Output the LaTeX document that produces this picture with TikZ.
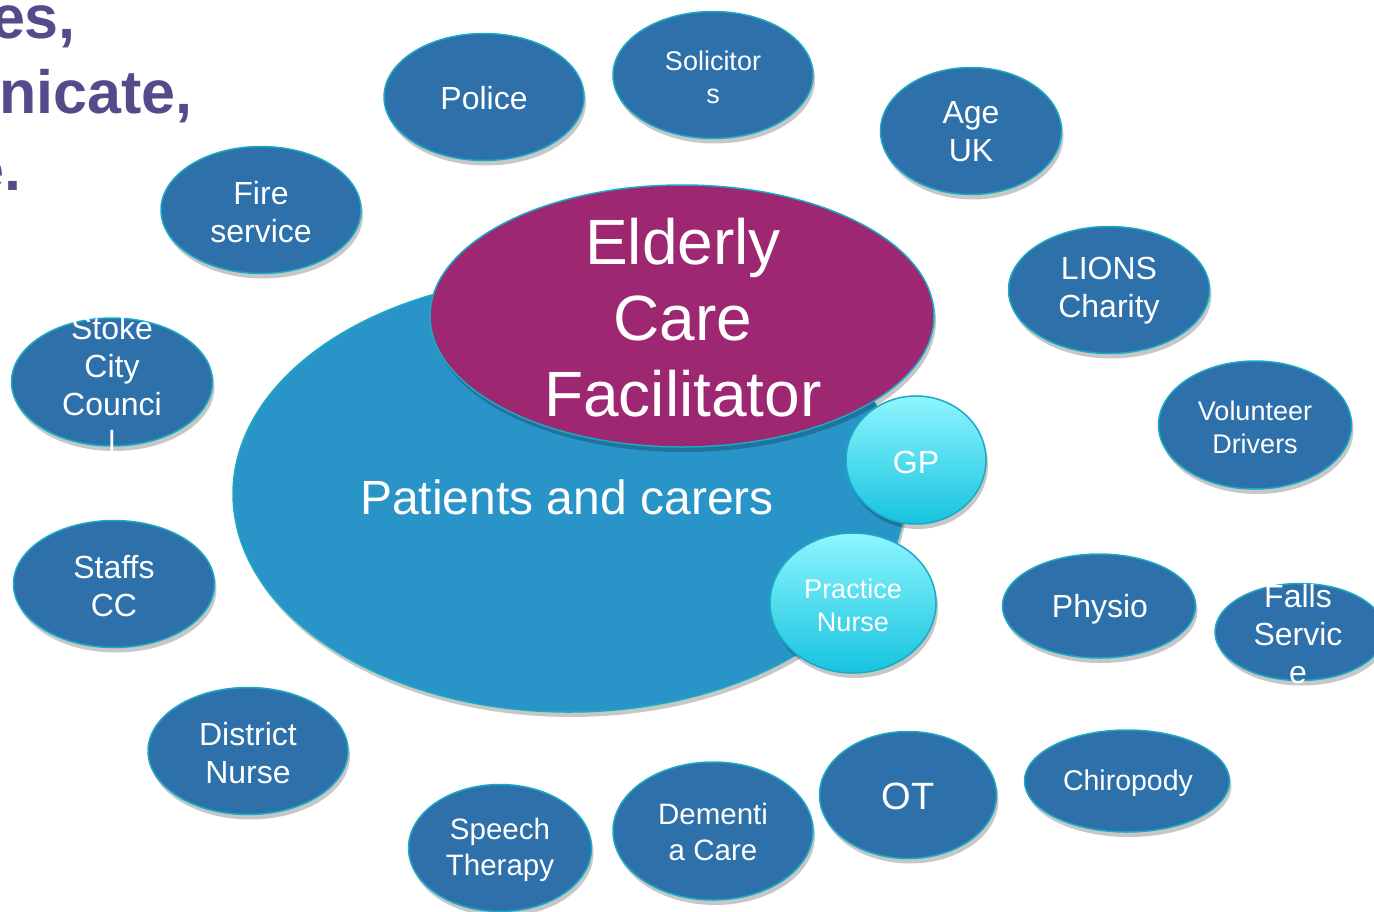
\documentclass[tikz,border=0pt]{standalone}
\usepackage{fontspec}
\setmainfont{Liberation Sans}
\usetikzlibrary{shapes.geometric,shadows}
\definecolor{bub}{HTML}{2E71AA}
\definecolor{bubedge}{HTML}{1AAAC4}
\definecolor{bigblue}{HTML}{2994C8}
\definecolor{magen}{HTML}{9E2772}
\definecolor{gptop}{HTML}{8EF6FE}
\definecolor{gpbot}{HTML}{16C3DF}
\definecolor{purp}{HTML}{564A8A}
\tikzset{
  shad/.style={drop shadow={shadow xshift=2pt, shadow yshift=-5pt, opacity=0.22, fill=black}},
  bubble/.style={ellipse, fill=bub, draw=bubedge, line width=1.5pt, inner sep=0pt, shad},
  lightbub/.style={ellipse, top color=gptop, bottom color=gpbot, draw=bubedge, line width=1.5pt, inner sep=0pt, shad},
  txt/.style={text=white, align=center, inner sep=0pt, font=\fontsize{32}{38}\selectfont},
  midtxt/.style={txt, font=\fontsize{29.5}{36}\selectfont},
  smalltxt/.style={txt, font=\fontsize{27}{33}\selectfont},
  headtxt/.style={text=purp, inner sep=0pt, font=\fontsize{61}{72}\selectfont\bfseries},
}
\begin{document}
\begin{tikzpicture}[x=1pt,y=-1pt]
\useasboundingbox (0,0) rectangle (1374,911);
\clip (0,0) rectangle (1374,911);
\fill[white] (0,0) rectangle (1374,911);

% heading fragments
\node[headtxt, anchor=base east] (h1) at (76,38) {es,};
\node[headtxt, anchor=base east] (h2) at (193,113) {nicate,};
\node[headtxt, anchor=base east] (h3) at (22,190) {e.};

% central ellipses
\node[ellipse, fill=bigblue, draw=bubedge, line width=1.5pt, inner sep=0pt, shad,
      minimum width=672pt, minimum height=436pt] (pat) at (569,494) {};
\node[txt, font=\fontsize{48}{56}\selectfont] (patt) at (567,497) {Patients and carers};

\node[ellipse, fill=magen, draw=bubedge, line width=1.5pt, inner sep=0pt, shad,
      minimum width=504pt, minimum height=262pt] (ecf) at (682,316) {};
\node[txt, font=\fontsize{64}{76}\selectfont] (ecft) at (683,318) {Elderly\\Care\\Facilitator};

\node[lightbub, minimum width=140pt, minimum height=128pt] (gp) at (916,460) {};
\node[txt] (gpt) at (916,462) {GP};

\node[lightbub, minimum width=166pt, minimum height=140pt] (pn) at (853,603) {};
\node[smalltxt] (pnt) at (853,605) {Practice\\Nurse};

% outer bubbles
\node[bubble, minimum width=200pt, minimum height=127pt] (police) at (484,97) {};
\node[txt] (policet) at (484,98) {Police};

\node[bubble, minimum width=200pt, minimum height=127pt] (sol) at (713,75) {};
\node[smalltxt] (solt) at (713,77) {Solicitor\\s};

\node[bubble, minimum width=181pt, minimum height=127pt] (age) at (971,131) {};
\node[txt] (aget) at (971,132) {Age\\UK};

\node[bubble, minimum width=200pt, minimum height=127pt] (fire) at (261,210) {};
\node[txt] (firet) at (261,212) {Fire\\service};

\node[bubble, minimum width=201pt, minimum height=127pt] (lions) at (1109,290) {};
\node[txt] (lionst) at (1109,291) {LIONS\\Charity};

\node[bubble, minimum width=193pt, minimum height=128pt] (vol) at (1255,425) {};
\node[smalltxt] (volt) at (1255,427) {Volunteer\\Drivers};

\node[bubble, minimum width=201pt, minimum height=128pt] (stoke) at (112,382) {};
\node[txt] (stoket) at (112,385) {Stoke\\City\\Counci\\l};

\node[bubble, minimum width=201pt, minimum height=127pt] (staffs) at (114,584) {};
\node[txt] (staffst) at (114,586) {Staffs\\CC};

\node[bubble, minimum width=200pt, minimum height=127pt] (dn) at (248,751) {};
\node[txt] (dnt) at (248,753) {District\\Nurse};

\node[bubble, minimum width=183pt, minimum height=127pt] (sp) at (500,848) {};
\node[midtxt] (spt) at (500,850) {Speech\\Therapy};

\node[bubble, minimum width=200pt, minimum height=138pt] (dem) at (713,831) {};
\node[midtxt] (demt) at (713,832) {Dementi\\a Care};

\node[bubble, minimum width=177pt, minimum height=127pt] (ot) at (908,795) {};
\node[txt, font=\fontsize{38}{44}\selectfont] (ott) at (908,796) {OT};

\node[bubble, minimum width=205pt, minimum height=102pt] (chiro) at (1127,781) {};
\node[txt, font=\fontsize{28.5}{34}\selectfont] (chirot) at (1128,783) {Chiropody};

\node[bubble, minimum width=193pt, minimum height=104pt] (phys) at (1099,606) {};
\node[txt] (physt) at (1100,609) {Physio};

\node[bubble, minimum width=170pt, minimum height=97pt] (falls) at (1300,632) {};
\node[txt] (fallst) at (1298,634) {Falls\\Servic\\e};
\end{tikzpicture}
\end{document}
